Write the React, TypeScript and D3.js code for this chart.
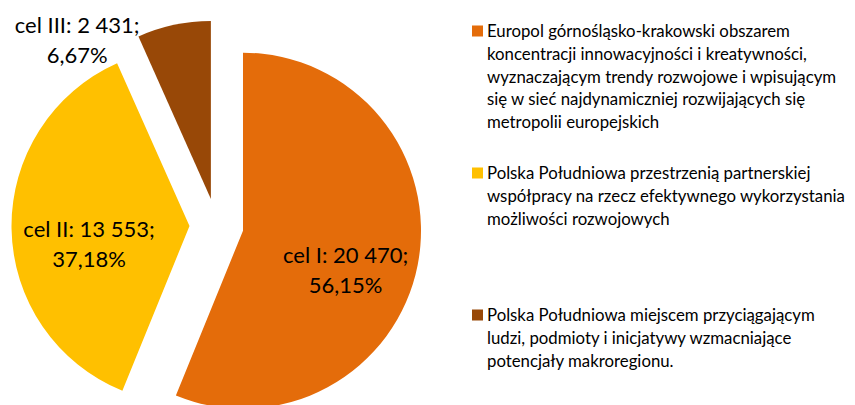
import * as d3 from 'd3';
import { useEffect, useRef } from 'react';

const categories = ['cel I', 'cel II', 'cel III'];
const values = [20470, 13553, 2431];
const percents = ['56,15%', '37,18%', '6,67%'];
const valueLabels = ['20 470', '13 553', '2 431'];
const colors = ['#E46C0A', '#FFC000', '#984807'];
const legendLines = [
    [
        'Europol górnośląsko-krakowski obszarem',
        'koncentracji innowacyjności i kreatywności,',
        'wyznaczającym trendy rozwojowe i wpisującym',
        'się w sieć najdynamiczniej rozwijających się',
        'metropolii europejskich',
    ],
    [
        'Polska Południowa przestrzenią partnerskiej',
        'współpracy na rzecz efektywnego wykorzystania',
        'możliwości rozwojowych',
    ],
    ['Polska Południowa miejscem przyciągającym', 'ludzi, podmioty i inicjatywy wzmacniające', 'potencjały makroregionu.'],
];

// label placement (bearing in degrees clockwise from top, distance from slice vertex)
const labelPos = [
    { angle: 111, r: 110 },
    { angle: 260, r: 102 },
    { angle: 320, r: 208 },
];

export default function App() {
    const ref = useRef<SVGSVGElement | null>(null);

    useEffect(() => {
        if (!ref.current) return;
        document.body.style.margin = '0';
        const svg = d3.select(ref.current);
        svg.selectAll('*').remove();

        const width = 855;
        const height = 405;
        const cx = 216.5;
        const cy = 225.5;
        const radius = 178;
        const explode = 27;
        const font = 'Lato, "Open Sans", sans-serif';

        const pie = d3.pie<number>().sort(null).value((d) => d);
        const arcs = pie(values);
        const arc = d3.arc<d3.PieArcDatum<number>>().innerRadius(0).outerRadius(radius);

        const g = svg.append('g').attr('transform', `translate(${cx},${cy})`);

        const slices = g
            .selectAll('g.slice')
            .data(arcs)
            .join('g')
            .attr('class', 'slice')
            .attr('transform', (d) => {
                const a = (d.startAngle + d.endAngle) / 2;
                return `translate(${Math.sin(a) * explode},${-Math.cos(a) * explode})`;
            });

        slices
            .append('path')
            .attr('d', arc)
            .attr('fill', (_, i) => colors[i]);

        slices.each(function (_, i) {
            const p = labelPos[i];
            const a = (p.angle * Math.PI) / 180;
            const lx = Math.sin(a) * p.r;
            const ly = -Math.cos(a) * p.r;
            const t = d3
                .select(this)
                .append('text')
                .attr('text-anchor', 'middle')
                .attr('font-family', font)
                .attr('font-size', 22)
                .attr('fill', '#000');
            t.append('tspan').attr('x', lx).attr('y', ly - 7).text(`${categories[i]}: ${valueLabels[i]};`);
            t.append('tspan').attr('x', lx).attr('y', ly + 23).text(percents[i]);
        });

        // legend
        const legendX = 472;
        const lineH = 22.8;
        const starts = [31, 173, 315];
        const legend = svg.append('g');
        legendLines.forEach((lines, i) => {
            const item = legend.append('g').attr('transform', `translate(${legendX},${starts[i]})`);
            item.append('rect').attr('x', 0).attr('y', -5.5).attr('width', 11).attr('height', 11).attr('fill', colors[i]);
            const t = item
                .append('text')
                .attr('font-family', font)
                .attr('font-size', 16.8)
                .attr('fill', '#000');
            lines.forEach((l, j) => {
                t.append('tspan').attr('x', 15).attr('y', j * lineH + 6).text(l);
            });
        });

        svg.attr('width', width).attr('height', height);
    }, []);

    return <svg ref={ref} width={855} height={405} style={{ display: 'block', background: '#fff' }} />;
}
